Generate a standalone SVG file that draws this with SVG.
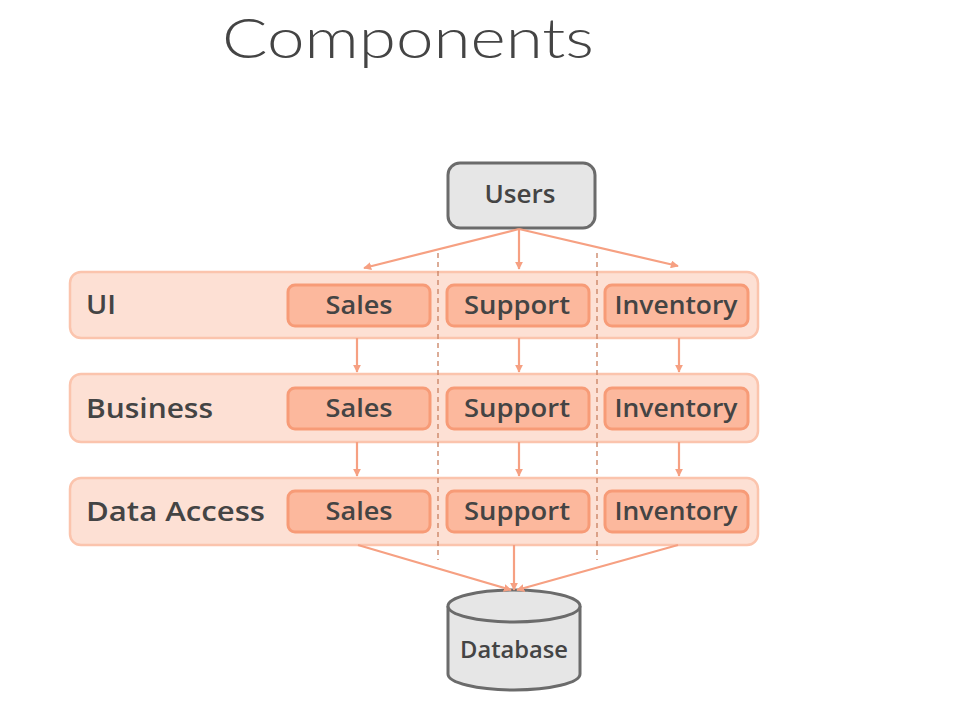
<svg xmlns="http://www.w3.org/2000/svg" width="955" height="725" viewBox="0 0 955 725">
<style>
.layer{fill:#fde0d4;stroke:#fbc4ad;stroke-width:2.5}
.comp{fill:#fcb89d;stroke:#f79b77;stroke-width:3}
.lt{font-family:"Open Sans","Liberation Sans",sans-serif;font-weight:600;font-size:27px;fill:#444}
.ct{font-family:"Open Sans","Liberation Sans",sans-serif;font-weight:600;font-size:26px;fill:#444;text-anchor:middle}
.conn{stroke:#f6a082;stroke-width:2.2;fill:none}
.dash{stroke:#c98060;stroke-width:1.3;stroke-dasharray:5 4;fill:none}
</style>
<defs>
<marker id="ah" viewBox="0 0 10 10" refX="9" refY="5" markerWidth="8" markerHeight="8" orient="auto" markerUnits="userSpaceOnUse">
<path d="M0,0 L10,5 L0,10 Z" fill="#f6a082"/>
</marker>
</defs>
<rect width="955" height="725" fill="#fff"/>
<text x="222" y="58" font-family="Lato,'Open Sans',sans-serif" font-weight="300" font-size="56" fill="#444" textLength="372" lengthAdjust="spacingAndGlyphs">Components</text>

<g id="layer-ui">
<rect class="layer" x="70" y="272" width="688" height="66" rx="11"/>
<text class="lt" x="86" y="314" textLength="30" lengthAdjust="spacingAndGlyphs">UI</text>
</g>
<g id="layer-business">
<rect class="layer" x="70" y="374" width="688" height="68" rx="11"/>
<text class="lt" x="86" y="418" textLength="127" lengthAdjust="spacingAndGlyphs">Business</text>
</g>
<g id="layer-data">
<rect class="layer" x="70" y="478" width="688" height="67" rx="11"/>
<text class="lt" x="86" y="521" textLength="179" lengthAdjust="spacingAndGlyphs">Data Access</text>
</g>

<g id="dividers">
<line class="dash" x1="438" y1="253" x2="438" y2="560"/>
<line class="dash" x1="597" y1="253" x2="597" y2="560"/>
</g>

<g id="ui-sales"><rect class="comp" x="288" y="285" width="142" height="41" rx="7"/><text class="ct" x="359" y="314" textLength="67" lengthAdjust="spacingAndGlyphs">Sales</text></g>
<g id="ui-support"><rect class="comp" x="447" y="285" width="142" height="41" rx="7"/><text class="ct" x="517" y="314" textLength="106" lengthAdjust="spacingAndGlyphs">Support</text></g>
<g id="ui-inventory"><rect class="comp" x="605" y="285" width="143" height="41" rx="7"/><text class="ct" x="676" y="314" textLength="123" lengthAdjust="spacingAndGlyphs">Inventory</text></g>

<g id="bus-sales"><rect class="comp" x="288" y="388" width="142" height="41" rx="7"/><text class="ct" x="359" y="417" textLength="67" lengthAdjust="spacingAndGlyphs">Sales</text></g>
<g id="bus-support"><rect class="comp" x="447" y="388" width="142" height="41" rx="7"/><text class="ct" x="517" y="417" textLength="106" lengthAdjust="spacingAndGlyphs">Support</text></g>
<g id="bus-inventory"><rect class="comp" x="605" y="388" width="143" height="41" rx="7"/><text class="ct" x="676" y="417" textLength="123" lengthAdjust="spacingAndGlyphs">Inventory</text></g>

<g id="da-sales"><rect class="comp" x="288" y="491" width="142" height="41" rx="7"/><text class="ct" x="359" y="520" textLength="67" lengthAdjust="spacingAndGlyphs">Sales</text></g>
<g id="da-support"><rect class="comp" x="447" y="491" width="142" height="41" rx="7"/><text class="ct" x="517" y="520" textLength="106" lengthAdjust="spacingAndGlyphs">Support</text></g>
<g id="da-inventory"><rect class="comp" x="605" y="491" width="143" height="41" rx="7"/><text class="ct" x="676" y="520" textLength="123" lengthAdjust="spacingAndGlyphs">Inventory</text></g>

<g id="users">
<rect x="448" y="163" width="147" height="65" rx="12" fill="#e6e6e6" stroke="#6b6b6b" stroke-width="3"/>
<text class="ct" x="520" y="203" textLength="71" lengthAdjust="spacingAndGlyphs">Users</text>
</g>

<g id="database">
<path d="M448,606 L448,674 A66,16 0 0 0 580,674 L580,606" fill="#e6e6e6" stroke="#6b6b6b" stroke-width="3"/>
<ellipse cx="514" cy="606" rx="66" ry="16" fill="#e6e6e6" stroke="#6b6b6b" stroke-width="3"/>
<text class="ct" x="514" y="658" style="font-size:24px" textLength="108" lengthAdjust="spacingAndGlyphs">Database</text>
</g>

<g id="connectors">
<line class="conn" x1="519" y1="229" x2="364" y2="268" marker-end="url(#ah)"/>
<line class="conn" x1="519" y1="229" x2="519" y2="269" marker-end="url(#ah)"/>
<line class="conn" x1="519" y1="229" x2="678" y2="266" marker-end="url(#ah)"/>
<line class="conn" x1="357" y1="338" x2="357" y2="372" marker-end="url(#ah)"/>
<line class="conn" x1="519" y1="338" x2="519" y2="372" marker-end="url(#ah)"/>
<line class="conn" x1="679" y1="338" x2="679" y2="372" marker-end="url(#ah)"/>
<line class="conn" x1="357" y1="442" x2="357" y2="476" marker-end="url(#ah)"/>
<line class="conn" x1="519" y1="442" x2="519" y2="476" marker-end="url(#ah)"/>
<line class="conn" x1="679" y1="442" x2="679" y2="476" marker-end="url(#ah)"/>
<line class="conn" x1="358" y1="545" x2="511" y2="590" marker-end="url(#ah)"/>
<line class="conn" x1="514" y1="545" x2="514" y2="590" marker-end="url(#ah)"/>
<line class="conn" x1="678" y1="545" x2="517" y2="590" marker-end="url(#ah)"/>
</g>
</svg>
